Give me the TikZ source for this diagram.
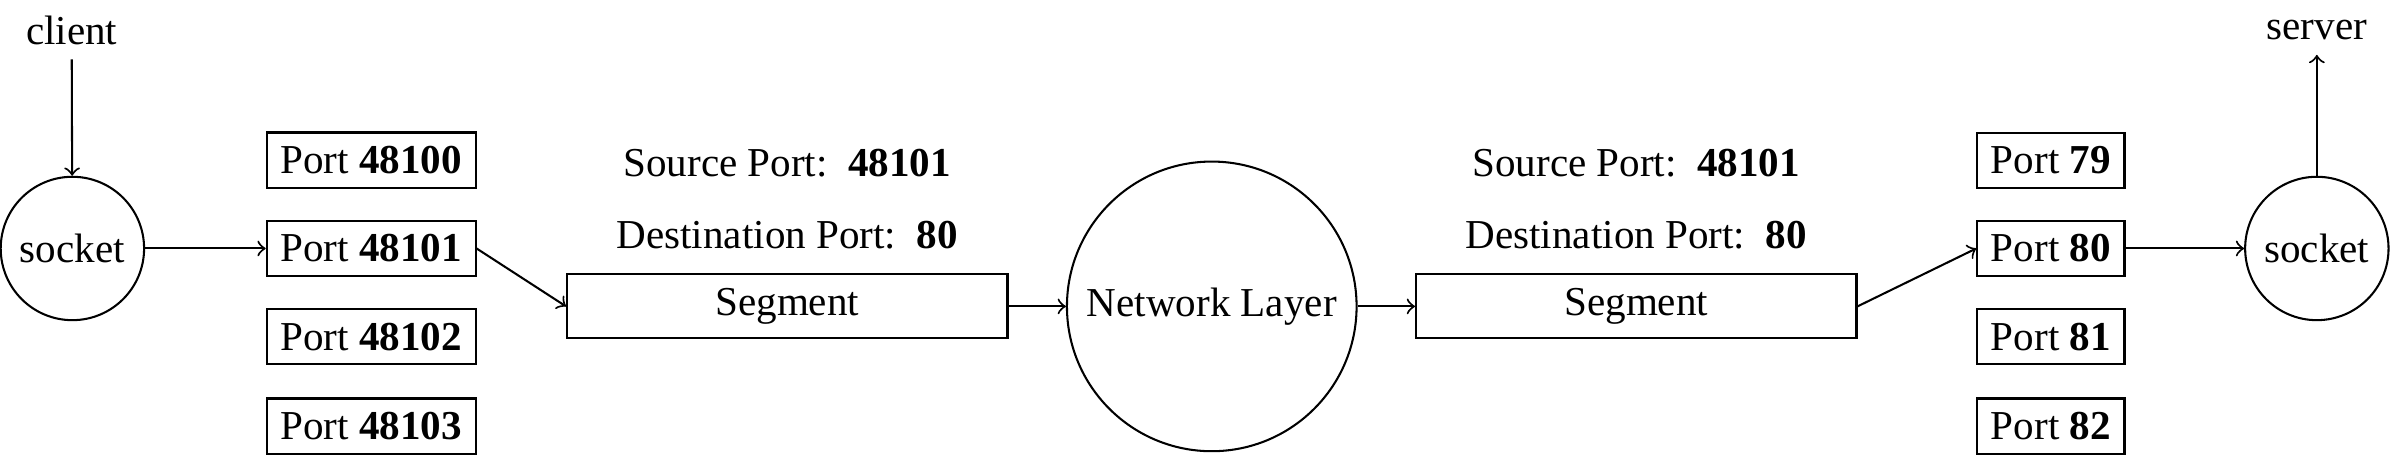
\documentclass[tikz,border=0pt]{standalone}
\usepackage{fontspec}
\setmainfont{Liberation Serif}
\begin{document}
\begin{tikzpicture}[x=0.371pt,y=-0.371pt,
  portbox/.style={draw,line width=0.5pt,minimum height=13pt,inner sep=3.333pt},
  lport/.style={portbox,minimum width=50.8pt},
  segbox/.style={draw,line width=0.5pt,minimum width=107.2pt,minimum height=15.6pt},
  sock/.style={draw,line width=0.5pt,circle,minimum size=34.9pt,inner sep=1pt},
  conn/.style={->,line width=0.5pt},
  lbl/.style={inner sep=3.333pt}]
\useasboundingbox (0,0) rectangle (1568,298);
% left side
\node[lbl] (client) at (47,20) {client};
\node[sock] (sockL) at (47.5,163) {socket};
\node[lport] (p48100) at (243.5,105) {Port \textbf{48100}};
\node[lport] (p48101) at (243.5,163) {Port \textbf{48101}};
\node[lport] (p48102) at (243.5,221) {Port \textbf{48102}};
\node[lport] (p48103) at (243.5,279.5) {Port \textbf{48103}};
\node[lbl] (srcL) at (516.5,107) {Source Port:\enspace\textbf{48101}};
\node[lbl] (dstL) at (516.5,154) {Destination Port:\enspace\textbf{80}};
\node[segbox] (segL) at (516.5,201) {Segment};
% middle
\node[draw,line width=0.5pt,circle,minimum size=70.5pt,inner sep=1pt] (net) at (795,201) {Network Layer};
% right side
\node[lbl] (srcR) at (1073.5,107) {Source Port:\enspace\textbf{48101}};
\node[lbl] (dstR) at (1073.5,154) {Destination Port:\enspace\textbf{80}};
\node[segbox] (segR) at (1073.5,201) {Segment};
\node[portbox] (p79) at (1345.5,105) {Port \textbf{79}};
\node[portbox] (p80) at (1345.5,163) {Port \textbf{80}};
\node[portbox] (p81) at (1345.5,221) {Port \textbf{81}};
\node[portbox] (p82) at (1345.5,279.5) {Port \textbf{82}};
\node[sock] (sockR) at (1520,163) {socket};
\node[lbl] (server) at (1520,20) {server};
% connectors
\draw[conn] (client) -- (sockL);
\draw[conn] (sockL) -- (p48101);
\draw[conn] (p48101.east) -- (segL.west);
\draw[conn] (segL) -- (net);
\draw[conn] (net) -- (segR);
\draw[conn] (segR.east) -- (p80.west);
\draw[conn] (p80) -- (sockR);
\draw[conn] (sockR) -- (server);
\end{tikzpicture}
\end{document}
